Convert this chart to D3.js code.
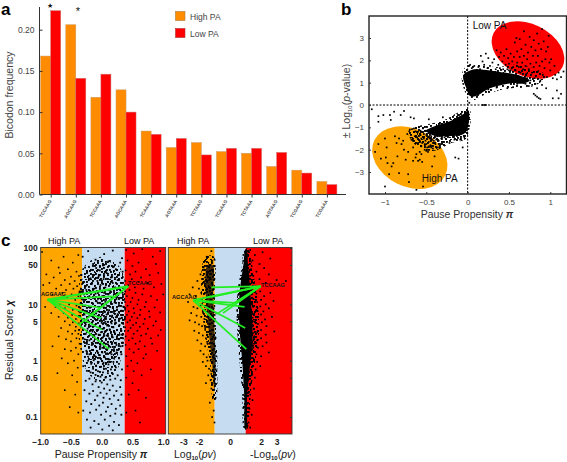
<!DOCTYPE html>
<html><head><meta charset="utf-8">
<script src="https://cdnjs.cloudflare.com/ajax/libs/d3/7.8.5/d3.min.js"></script>
<style>
html,body{margin:0;padding:0;background:#fff}
svg{display:block}
text{font-family:"Liberation Sans",Arial,sans-serif;fill:#222}
.axis path,.axis line{stroke:#333}
</style></head><body>
<svg id="c" width="567" height="462"><defs></defs></svg>
<script>
// ---------- panel a ----------
const bicodons=["TCCAAG","AGCAAG","TCCAAA","AGCAAA","TCAAAA","AGTAAA","TCTAAG","TCAAAG","TCTAAA","AGTAAG","TCGAAG","TCGAAA"];
const highPA=[.168,.206,.118,.127,.077,.057,.063,.052,.050,.034,.0295,.0158];
const lowPA=[.223,.141,.146,.100,.073,.068,.048,.056,.056,.051,.026,.012];
const freqTicks=[0,.05,.10,.15,.20];
// ---------- panel b ----------
const bandPos=[[-.05,1.35],[.03,1.55],[.1,1.6],[.27,1.55],[.45,1.45],[.6,1.35],[.75,1.1],[.65,.95],[.55,.98],[.27,.75],[.1,.4],[.03,.4],[-.02,.8],[-.05,1.1]];
const hazePos=[[-.07,1.4],[.02,1.85],[.15,1.8],[.35,1.7],[.55,1.8],[.75,1.7],[.95,1.3],[.8,.85],[.45,.72],[.2,.45],[.06,.22],[-.02,.5]];
const bandNeg=[[.01,-.25],[-.05,-.4],[-.23,-.75],[-.4,-.95],[-.5,-1.15],[-.42,-1.35],[-.25,-1.4],[-.05,-1.3],[0,-1.04]];
const hazeNeg=[[.02,-.15],[-.1,-.3],[-.3,-.7],[-.6,-.95],[-.72,-1.2],[-.6,-1.9],[-.4,-2.05],[-.2,-1.7],[-.02,-1.5]];
const bNegPts=[[-1.16,-.19],[-1.08,-.5],[-1.02,-.45],[-.94,-.45],[-.89,-.3],[-.77,-.27],[-.69,-.55],[-.93,-.67],[-1.08,-.75],[-.81,-.45],[-.65,-.6],[-.47,-.64],[-.3,-.55],[-.12,-.45],[-.1,-.6],
[-1.12,-2.1],[-1.08,-1.75],[-1.05,-2.4],[-1,-1.5],[-.98,-1.9],[-.99,-2.35],[-.97,-2.6],[-.95,-3.1],[-1,-3.65],[-.92,-2.75],[-.9,-2.6],[-.88,-1.4],[-.86,-1.7],[-.85,-2.3],[-.83,-1.5],[-.83,-3.05],[-.8,-1.75],[-.78,-1.6],[-.77,-2],[-.75,-2.45],[-.73,-1.3],[-.72,-2.1],[-.72,-3.1],[-.71,-3.45],[-.7,-1.1],[-.68,-1.55],[-.66,-2.5],[-.66,-1.9],[-.64,-1.4],[-.63,-2.35],[-.62,-3.8],[-.6,-1.2],[-.6,-1.7],[-.6,-2.5],[-.58,-2.1],[-.57,-1.35],[-.56,-1.85],[-.55,-1.2],[-.54,-3.65],[-.53,-1.5],[-.52,-2],[-.5,-1.35],[-.5,-1.75],[-.48,-2.1],[-.46,-1.5],[-.44,-1.9],[-.43,-2.75],[-.42,-1.7],[-.41,-1.25],[-.4,-2.3],[-.38,-1.55],[-.36,-1.9],[-.34,-1.3],[-.33,-1.75],[-.3,-1.65],[-.28,-1.45],[-.22,-1.7],[-.16,-1.55],[-.15,-2.35],[-.11,-2.4],[-.06,-1.9],[-.09,-1.55],[-.04,-1.45],
[-.65,-1.05],[-.63,-1.18],[-.61,-1.45],[-.59,-1],[-.58,-1.6],[-.57,-1.15],[-.56,-1.5],[-.55,-1.7],[-.54,-1.05],[-.53,-1.3],[-.52,-1.75],[-.51,-1.6],[-.5,-1.15],[-.49,-1.9],[-.48,-1.45],[-.47,-1.65],[-.46,-1.2],[-.45,-1.8],[-.44,-1.4],[-.43,-1.55],[-.42,-1.95],[-.41,-1.6],[-.4,-1.45],[-.39,-1.75],[-.37,-1.4],[-.35,-1.6],[-.32,-1.5],[-.56,-2.2],[-.58,-2.45],[-.55,-2.55],[-.62,-2.2],[-.47,-1.85],[-.5,-2.05]];
const bPosPts=[[.03,1.8],[.05,1.65],[.08,1.75],[.1,1.55],[.13,1.7],[.15,1.6],[.16,2.2],[.18,1.95],[.2,1.8],[.22,2.3],[.24,1.65],[.25,2.1],[.27,1.75],[.28,1.55],[.3,1.9],[.32,2.05],[.34,1.6],[.35,2.45],[.37,1.8],[.38,2.15],[.39,1.65],[.4,2.35],[.42,1.95],[.43,1.6],[.44,2.2],[.46,1.8],[.47,2.5],[.48,1.6],[.49,2.1],[.5,1.85],[.52,1.55],[.52,2.3],[.54,1.95],[.55,1.7],[.56,2.15],[.57,2.8],[.58,1.55],[.59,3],[.6,1.9],[.6,2.4],[.62,1.7],[.63,2.15],[.63,2.95],[.64,1.45],[.65,2.5],[.66,1.9],[.67,1.6],[.68,2.2],[.68,3.3],[.7,1.75],[.7,2.7],[.71,1.4],[.72,2.05],[.73,2.35],[.74,1.6],[.75,3.05],[.76,1.85],[.77,2.6],[.78,1.45],[.79,2.2],[.8,1.7],[.8,2.9],[.81,1.2],[.82,2.45],[.83,1.9],[.84,3.2],[.85,1.5],[.85,2.2],[.86,2.75],[.87,1.75],[.88,1.1],[.89,2.5],[.9,3.4],[.9,1.95],[.91,1.35],[.92,2.85],[.93,1.65],[.94,2.05],[.95,2.4],[.96,1.25],[.97,2.6],[.98,3.1],[.99,1.9],[1,1.55],[1.01,2.05],[1.03,1.2],[1.05,1.75],[1.06,1.35],[1.08,1.15],[1.1,1.45],[1.13,1.25],[1.16,1.5],
[.6,1.3],[.65,1.05],[.7,.95],[.72,1.2],[.74,.85],[.76,1.1],[.78,.9],[.82,.95],[.84,.75],[.8,.5],[.82,.43],[.84,.37],[.86,.31],[.88,.27],[.9,.9],[.95,.75],[1.08,.65],[1.1,.3],[1.13,.5],[1.03,.3],[.6,.95],[.55,.8],[.48,.75],[.35,.78],[.5,1.55],[.25,.7],[.02,.1],[.18,0],[.2,0],[.22,0]];
const ellipseLow={cx:.73,cy:2.46};
const ellipseHigh={cx:-.70,cy:-2.36};
// ---------- panel c, left ----------
const scoreTicks=[100,50,10,5,1,.5,.1];
const piTicks=[-1,-.5,0,.5,1];
const pvTicks=[-3,-2,0,2,3];
const cLeftDense=[[-.3,30],[-.1,55],[.15,55],[.36,30],[.38,10],[.36,3],[.25,1.2],[0,.75],[-.22,1.1],[-.33,3],[-.36,10]];
const cLeftWide=[[-.3,45],[0,70],[.3,45],[.39,12],[.36,2],[.22,.6],[0,.42],[-.22,.6],[-.36,2],[-.38,12]];
const cLeftBlue=[[-.31,70],[-.22,88],[-.1,62],[.04,78],[.18,90],[.3,55],[-.27,45],[-.14,52],[-.03,40],[.11,58],[.23,42],[.33,66],[-.33,33],[-.24,36],[-.18,29],[-.09,44],[-.05,31],[.02,49],[.08,36],[.15,30],[.2,47],[.27,33],[.34,38],[-.3,25],[-.26,21],[-.21,27],[-.16,23],[-.12,19],[-.07,26],[-.02,22],[.03,28],[.06,20],[.1,25],[.14,18],[.18,24],[.22,20],[.26,27],[.3,18],[.35,24],
[-.33,17],[-.29,15],[-.25,18],[-.2,14],[-.17,16.5],[-.13,13],[-.1,15.5],[-.06,12.5],[-.03,17],[.01,14],[.04,16],[.07,12],[.11,15],[.13,17.5],[.16,13],[.2,16],[.24,12.5],[.27,15],[.31,13],[.34,16],[.36,12],
[-.34,10.5],[-.3,12],[-.27,9.5],[-.23,11],[-.19,8.7],[-.15,10.6],[-.11,9.2],[-.08,11.3],[-.04,8.4],[0,10],[.03,8.9],[.06,11],[.09,9.4],[.12,7.9],[.15,10.2],[.18,8.6],[.21,10.8],[.25,8.1],[.28,9.7],[.32,7.7],[.35,9.1],
[-.35,7.2],[-.31,8],[-.28,6.6],[-.24,7.6],[-.2,6.2],[-.16,7.1],[-.13,5.8],[-.09,6.9],[-.05,7.5],[-.02,6],[.02,7],[.05,5.7],[.08,6.6],[.11,7.3],[.14,5.5],[.17,6.3],[.2,7],[.23,5.9],[.26,6.7],[.3,5.6],[.33,6.4],[.36,5.3],
[-.33,5],[-.29,5.5],[-.26,4.4],[-.22,5.2],[-.18,4.1],[-.15,4.9],[-.11,4.3],[-.07,5.3],[-.04,3.9],[0,4.7],[.03,3.7],[.06,4.9],[.09,4.2],[.13,3.6],[.16,4.6],[.19,3.9],[.22,4.8],[.25,3.5],[.29,4.3],[.32,3.4],[.35,4.5],
[-.3,3.5],[-.26,3],[-.23,3.7],[-.19,2.9],[-.15,3.3],[-.12,2.7],[-.08,3.5],[-.05,2.9],[-.01,3.2],[.02,2.6],[.05,3.3],[.08,2.8],[.12,2.5],[.15,3.1],[.18,2.6],[.21,3.2],[.25,2.7],[.28,2.4],[.32,2.9],[.35,2.5],
[-.28,2.4],[-.24,2],[-.2,2.3],[-.16,1.9],[-.13,2.2],[-.09,1.75],[-.06,2.3],[-.02,1.9],[.01,1.7],[.04,2.1],[.07,1.6],[.1,1.95],[.14,1.75],[.17,2.1],[.2,1.6],[.24,1.9],[.27,1.55],[.31,1.8],[.34,2.1],
[-.25,1.5],[-.2,1.3],[-.16,1.55],[-.11,1.2],[-.07,1.45],[-.03,1.25],[.01,1.4],[.05,1.15],[.09,1.35],[.12,1.05],[.16,1.3],[.2,1.1],[.24,1.4],[.28,1.1],[.32,1.3],
[-.22,1],[-.17,.88],[-.13,1.02],[-.09,.82],[-.05,.95],[-.01,.78],[.03,.92],[.07,.72],[.11,.86],[.15,.7],[.19,.95],[.23,.76],[.28,.88],[.33,.7],
[-.3,.8],[-.24,.66],[-.18,.62],[-.14,.72],[-.1,.56],[-.06,.65],[-.02,.52],[.02,.62],[.06,.5],[.1,.6],[.14,.46],[.18,.58],[.22,.48],[.26,.55],[.31,.45],
[-.26,.44],[-.2,.48],[-.15,.38],[-.1,.43],[-.05,.34],[0,.41],[.04,.32],[.09,.38],[.13,.3],[.18,.36],[.24,.29],[.3,.34],
[-.28,.3],[-.2,.26],[-.14,.29],[-.07,.24],[-.02,.27],[.03,.22],[.08,.26],[.13,.21],[.2,.24],[.27,.2],[.32,.25],
[-.25,.19],[-.17,.17],[-.11,.2],[-.04,.16],[.02,.18],[.1,.15],[.16,.17],[.23,.14],[.3,.16],
[-.3,.13],[-.19,.12],[-.09,.135],[-.01,.11],[.07,.125],[.14,.105],[.22,.115],[.32,.11],
[-.24,.09],[-.12,.085],[-.05,.075],[.05,.09],[.12,.07],[.2,.082],[.28,.072],[-.18,.065],[.01,.06],[.18,.058]];
const cLeftOrange=[[-.97,85],[-.82,60],[-.7,45],[-.62,70],[-.55,42],[-.47,55],[-.41,38],[-.38,75],[-.9,34],[-.78,30],[-.68,36],[-.6,27],[-.5,31],[-.44,26],[-.37,32],[-.95,22],[-.85,24],[-.74,19],[-.66,22],[-.58,18],[-.52,23],[-.46,19],[-.4,21],[-.36,17],[-.8,15],[-.72,13],[-.64,16],[-.56,13],[-.49,15],[-.43,12],[-.38,14],[-.92,9],[-.75,9],[-.68,10],[-.6,8.5],[-.53,10],[-.47,8],[-.41,9.5],[-.37,7.5],[-.82,7],[-.7,6],[-.62,7],[-.55,5.8],[-.48,6.5],[-.42,5.5],[-.37,6],[-.6,5],[-.52,4.3],[-.47,4.8],[-.42,4],[-.37,4.6],[-.66,3.8],[-.55,3.3],[-.48,3],[-.43,3.4],[-.38,3],[-.7,2.7],[-.58,2.4],[-.5,2.2],[-.41,2.5],[-.36,2],[-.8,1.8],[-.6,1.6],[-.5,1.5],[-.42,1.7],[-.38,1.3],[-.65,1.1],[-.55,.9],[-.45,1],[-.39,.75],[-.72,.6],[-.48,.55],[-.4,.42],[-.6,.3],[-.43,.25],[-.52,.15],[-.38,.12]];
const cLeftRed=[[.4,92],[.52,80],[.66,95],[.83,70],[.95,88],[.42,60],[.5,48],[.6,55],[.72,42],[.88,52],[.39,40],[.46,34],[.55,38],[.64,30],[.78,33],[.92,36],[.38,26],[.43,22],[.49,28],[.54,20],[.6,25],[.68,19],[.75,24],[.85,20],[.97,23],[.38,17],[.41,14],[.45,18],[.5,13],[.55,16],[.6,12],[.66,15],[.72,11],[.8,14],[.9,12],[1,15],[.38,11],[.42,9.5],[.47,11],[.52,8.5],[.58,10],[.63,8],[.7,9],[.77,7.5],[.86,8.8],[.95,7.2],[.38,8],[.41,6.5],[.44,7.5],[.49,6],[.53,7],[.58,5.7],[.62,6.5],[.7,5.5],[.78,6],[.88,5],[.38,5.5],[.42,4.8],[.46,5.2],[.51,4.3],[.56,4.7],[.62,4],[.68,4.5],[.75,3.7],[.84,4.2],[.96,3.5],[.38,3.9],[.43,3.4],[.47,3.8],[.52,3],[.58,3.4],[.64,2.8],[.72,3],[.8,2.5],[.92,2.8],[.39,2.7],[.44,2.3],[.5,2.5],[.55,2],[.62,2.2],[.7,1.8],[.82,2],[.39,1.9],[.45,1.6],[.52,1.4],[.6,1.6],[.72,1.3],[.9,1.5],[.4,1.2],[.48,1],[.58,.9],[.68,1.1],[.42,.8],[.52,.65],[.65,.55],[.8,.7],[.4,.5],[.5,.4],[.6,.3],[.44,.25],[.72,.22],[.55,.13],[.4,.12],[.62,.08]];
// ---------- panel c, right ----------
const cRightDark=[[.98,94],[.88,54],[.72,27.5],[.6,14],[.58,7],[.62,3.6],[.7,1.8],[.8,.91],[.86,.46],[.92,.23],[.98,.06],[1.05,.06],[1.1,.23],[1.2,.46],[1.3,.91],[1.42,1.8],[1.45,3.6],[1.4,7],[1.32,14],[1.25,27.5],[1.15,54],[1.08,94]];
const cRightFuzz=[[.9,95],[.78,50],[.52,20],[.42,7],[.5,2.5],[.62,.9],[.78,.3],[.92,.06],[1.1,.06],[1.35,.3],[1.6,.9],[1.85,2.5],[1.85,7],[1.65,20],[1.42,50],[1.2,95]];
const cRightHaze=[[-1.6,70],[-1.85,14],[-1.65,3.6],[-1.3,.91],[-1.08,.2],[-.92,.2],[-.82,.91],[-.9,3.6],[-.98,14],[-1.05,70]];
const cRightHazeCore=[[-1.45,50],[-1.55,14],[-1.38,3.6],[-1.15,.91],[-1.0,.3],[-.92,.91],[-1.0,3.6],[-1.08,14],[-1.12,50]];
const cRightHigh=[[-1.2,88],[-1.5,70],[-1,62],[-1.7,45],[-1.3,50],[-1.9,34],[-1.6,30],[-1.1,38],[-1.45,36],[-2.1,26],[-1.75,24],[-1.35,27],[-2.4,20],[-2,19],[-1.85,16],[-1.55,20],[-2.6,15],[-2.2,14],[-1.95,12.5],[-1.7,13],[-1.6,11],[-2.7,11],[-2.35,9],[-2.1,8.5],[-1.9,9.5],[-1.75,7.5],[-1.6,8],[-2.5,7],[-2.15,6.3],[-1.85,6],[-1.65,5.5],[-2.6,5.2],[-2.25,4.8],[-2,4.4],[-1.8,4.1],[-1.6,3.8],[-2.3,3.4],[-2,3.1],[-1.75,2.8],[-1.55,2.5],[-2.1,2.3],[-1.85,2],[-1.6,1.8],[-1.9,1.5],[-1.7,1.3],[-1.5,1.15],[-1.45,1],[-1.75,.95],[-1.55,.8],[-1.35,.72],[-1.4,.55],[-1.25,.45],[-1.55,.4],[-1.2,.32],[-1.1,.22],[-1.3,.18],[-1.05,.13],[-1.15,.1],[-1,.08],[-1.55,18],[-1.5,9.5],[-1.5,6],[-1.42,4.5],[-1.45,2.9],[-1.35,2],[-1.28,1.5],[-1.25,1],[-1.15,.65],[-1,.4],[-1.6,26],[-1.12,22],[-1.2,14],[-1.05,8.5],[-1,5],[-.95,2.6],[-.88,1.2],[-.92,.7]];
const cRightLow=[[1.3,92],[1.6,75],[2.1,84],[1.45,60],[1.9,52],[2.6,65],[1.35,42],[1.7,38],[2.2,44],[1.5,32],[1.9,28],[2.5,34],[1.4,24],[1.65,21],[2.3,24],[3,27],[1.45,17],[1.7,15.5],[1.95,17],[2.2,14],[2.6,16],[1.5,12.5],[1.75,11],[2,12],[2.3,10],[2.8,11.5],[1.5,9],[1.7,8],[1.95,9.2],[2.15,7.5],[2.5,8.5],[1.55,6.8],[1.75,6],[2,6.6],[2.25,5.4],[2.7,6],[1.55,5],[1.8,4.5],[2.05,4.8],[2.35,4.1],[1.55,3.6],[1.75,3.2],[2,3.5],[2.3,2.9],[2.85,3.3],[1.55,2.7],[1.75,2.3],[2,2.5],[2.35,2.1],[1.55,2],[1.8,1.7],[2.1,1.8],[1.5,1.5],[1.7,1.3],[2,1.2],[2.5,1.4],[1.5,1.1],[1.75,.95],[1.45,.8],[1.65,.7],[1.95,.8],[1.4,.55],[1.6,.5],[1.35,.4],[1.55,.32],[1.3,.25],[1.45,.2],[1.25,.14],[1.4,.11],[1.2,.08],[1.3,.065],[1.5,1.7],[1.5,2.3],[1.48,3.1],[1.46,4.3],[1.45,5.8],[1.42,10],[1.38,15],[1.36,20],[1.3,32],[3.6,26]];
// ---------- green connections ----------
const leftHubs=[[-.88,12.1],[.43,20.9]];
const leftEnds=[[[.12,1.6],[.005,3.55],[-.01,5.7],[-.01,8.7],[.2,13.9]],[[-.36,4.4],[-.17,6.6],[.12,11.3]]];
const rightHubs=[[-2.37,11.8],[1.97,20.9]];
const rightEnds=[[[1.05,1.6],[.98,3.8],[.94,9],[.3,10.6]],[[-.88,6.7],[-.45,7],[.3,10.6],[-1.2,13.5],[-1.2,20]]];
// ---------- speckle tiles for the unresolvable dense parts of the clouds ----------
const speckleA=[[1,2],[5,0],[9,3],[14,1],[19,2],[22,5],[3,6],[7,7],[12,5],[16,6],[20,9],[0,10],[5,11],[10,9],[14,11],[18,13],[23,12],[2,14],[7,15],[11,13],[15,16],[20,16],[4,18],[9,18],[13,19],[18,19],[22,18],[6,3],[17,10],[11,1],[1,17],[8,11],[21,14]];
const speckleB=[[0,1],[4,3],[8,0],[12,2],[16,4],[2,7],[6,6],[10,8],[14,7],[18,9],[0,11],[4,12],[8,11],[12,13],[16,12],[2,16],[6,15],[10,17],[14,16],[18,18],[0,20],[4,21],[8,20],[12,22],[16,21]];

const svg=d3.select("#c");
const defs=svg.select("defs");
function tile(id,w,h,pts){
  const p=defs.append("pattern").attr("id",id).attr("patternUnits","userSpaceOnUse").attr("width",w).attr("height",h);
  p.selectAll("rect").data(pts).join("rect").attr("x",d=>d[0]).attr("y",d=>d[1]).attr("width",1.9).attr("height",1.9).attr("fill","#000");
}
tile("spA",24,20,speckleA);
tile("spB",19,23,speckleB);
const panelLetter=(t,x,y)=>svg.append("text").attr("x",x).attr("y",y).attr("font-size",17).attr("font-weight","bold").style("fill","#000").text(t);
function label(t,x,y,size,anchor="start",extra={}){
  const e=svg.append("text").attr("x",x).attr("y",y).attr("font-size",size).attr("text-anchor",anchor).text(t);
  Object.entries(extra).forEach(([k,v])=>e.attr(k,v));return e;
}
function squares(g,data,x,y,s,fill="#000"){
  g.append("g").selectAll("rect").data(data).join("rect")
   .attr("x",d=>x(d[0])-s/2).attr("y",d=>y(d[1])-s/2).attr("width",s).attr("height",s).attr("fill",fill);
}
function blob(g,data,x,y,fill,op=1){
  g.append("path").attr("d",d3.line().x(d=>x(d[0])).y(d=>y(d[1])).curve(d3.curveCatmullRomClosed.alpha(.5))(data)).attr("fill",fill).attr("fill-opacity",op);
}

// ---- a ----
panelLetter("a",1,15);
const xa=d3.scaleLinear().domain([0,12]).range([40.7,342]);
const ya=d3.scaleLinear().domain([0,.2]).range([194.5,29.7]);
const gA=svg.append("g");
bicodons.forEach((c,i)=>{
  const x0=xa(i),w=10;
  gA.append("rect").attr("x",x0).attr("y",ya(highPA[i])).attr("width",w).attr("height",ya(0)-ya(highPA[i])).attr("fill","#FF8C00").attr("stroke","#c9975f").attr("stroke-width",.5);
  gA.append("rect").attr("x",x0+w).attr("y",ya(lowPA[i])).attr("width",w).attr("height",ya(0)-ya(lowPA[i])).attr("fill","#FF0000").attr("stroke","#d06a6a").attr("stroke-width",.5);
});
const axA=svg.append("g").attr("class","axis").attr("transform","translate(39.5,0)").call(d3.axisLeft(ya).tickValues(freqTicks).tickFormat(d3.format(".2f")).tickSize(-3).tickPadding(5));
axA.select("path").attr("d",`M0,7V${ya(0)}`);
axA.selectAll("text").attr("font-size",8.5).style("fill","#444");
const xaBand=d3.scalePoint().domain(bicodons).range([xa(0),xa(11)]);
const axB=svg.append("g").attr("class","axis").attr("transform",`translate(10,${ya(0)})`).call(d3.axisBottom(xaBand).tickSize(3).tickFormat(""));
axB.select("path").attr("d",`M29.5,0H${xa(12)-6}`);
bicodons.forEach((c,i)=>{
  const x=xa(i)+11;
  label(c,x,201,4.6,"end",{transform:`rotate(-60 ${x} 201)`,"font-weight":"bold"}).style("fill","#444");
});
label("★",50,8,7,"middle").style("fill","#111");
label("*",78,15,11,"middle").style("fill","#111");
label("Bicodon frequency",13,95,10.5,"middle",{transform:"rotate(-90 13 95)"}).style("fill","#444");
[["High PA","#FF8C00","#b07a3a",11.5],["Low PA","#FF0000","#a33",28.5]].forEach(([t,f,s,y])=>{
  svg.append("rect").attr("x",175.5).attr("y",y).attr("width",9.5).attr("height",9).attr("fill",f).attr("stroke",s).attr("stroke-width",.6);
  label(t,190,y+8,8.5,"start").style("fill","#444");
});

// ---- b ----
panelLetter("b",341,15);
const xb=d3.scaleLinear().domain([-1,1]).range([385,550.3]);
const yb=d3.scaleLinear().domain([-3,3]).range([172,38]);
const B={l:369,r:566.5,t:16,b:194};
const gb=svg.append("g");
function ell(e,a,b,rot,fill){
  const cx=xb(e.cx),cy=yb(e.cy);
  gb.append("ellipse").attr("cx",cx).attr("cy",cy).attr("rx",a).attr("ry",b).attr("transform",`rotate(${rot} ${cx} ${cy})`).attr("fill",fill);
}
ell(ellipseLow,38.4,26,26,"#FF0000");
ell(ellipseHigh,39.6,28.9,26.6,"#FFA500");
blob(gb,bandPos,xb,yb,"#000");
blob(gb,bandNeg,xb,yb,"#000");
blob(gb,hazePos,xb,yb,"url(#spA)");
blob(gb,hazeNeg,xb,yb,"url(#spA)");
blob(gb,hazeNeg,xb,yb,"url(#spB)");
squares(gb,bNegPts,xb,yb,1.7);
squares(gb,bPosPts,xb,yb,1.7);
gb.append("line").attr("x1",xb(0)).attr("x2",xb(0)).attr("y1",B.t).attr("y2",B.b).attr("stroke","#000").attr("stroke-width",1).attr("stroke-dasharray","2,1.5");
gb.append("line").attr("x1",B.l).attr("x2",B.r).attr("y1",yb(0)).attr("y2",yb(0)).attr("stroke","#000").attr("stroke-width",1).attr("stroke-dasharray","2,1.5");
svg.append("rect").attr("x",B.l).attr("y",B.t).attr("width",B.r-B.l).attr("height",B.b-B.t).attr("fill","none").attr("stroke","#222").attr("stroke-width",1.4);
const axbx=svg.append("g").attr("class","axis").attr("transform",`translate(0,${B.b})`).call(d3.axisBottom(xb).tickValues([-1,-.5,0,.5,1]).tickFormat(d3.format("")).tickSize(-2).tickPadding(5));
axbx.select("path").remove();axbx.selectAll("text").attr("font-size",8).style("fill","#444");
const axby=svg.append("g").attr("class","axis").attr("transform",`translate(${B.l},0)`).call(d3.axisLeft(yb).tickValues([-3,-2,-1,0,1,2,3]).tickFormat(d3.format("")).tickSize(-2).tickPadding(5));
axby.select("path").remove();axby.selectAll("text").attr("font-size",8).style("fill","#444");
label("Low PA",472.7,29,10).style("fill","#111");
label("High PA",421.7,182,10).style("fill","#111");
const xl=label("Pause Propensity ",467,218,10.5,"middle",{"font-weight":"500"}).style("fill","#333");
xl.append("tspan").attr("font-weight","bold").attr("font-style","italic").text("π");
const yl=svg.append("text").attr("transform","translate(350,101) rotate(-90)").attr("text-anchor","middle").attr("font-size",10.5).style("fill","#444");
yl.append("tspan").text("± Log");
yl.append("tspan").attr("font-size",6).attr("dy",2).text("10");
yl.append("tspan").attr("dy",-2).text("(");
yl.append("tspan").attr("font-style","italic").text("p");
yl.append("tspan").text("-value)");

// ---- c ----
panelLetter("c",1,246);
const yc=d3.scaleLog().domain([.05,100]).range([434,248]);
const C1={l:40.7,r:165.7,t:247.5,b:434,o:82,bl:124.7};
const C2={l:168.3,r:292,t:247.5,b:434,o:214.7,bl:245.7};
const xc1=d3.scaleLinear().domain([-1,1]).range([40.2,163.2]);
const xc2=d3.scaleLinear().domain([-3,3]).range([183.4,276.6]);
function background(C){
  svg.append("rect").attr("x",C.l).attr("y",C.t).attr("width",C.o-C.l).attr("height",C.b-C.t).attr("fill","#FFA500");
  svg.append("rect").attr("x",C.o).attr("y",C.t).attr("width",C.bl-C.o).attr("height",C.b-C.t).attr("fill","#C6DCF0");
  svg.append("rect").attr("x",C.bl).attr("y",C.t).attr("width",C.r-C.bl).attr("height",C.b-C.t).attr("fill","#FF0000");
}
background(C1);background(C2);
const g1=svg.append("g"),g2=svg.append("g");
blob(g1,cLeftWide,xc1,yc,"url(#spB)");
blob(g1,cLeftDense,xc1,yc,"url(#spA)");
squares(g1,cLeftBlue,xc1,yc,1.8);
squares(g1,cLeftOrange,xc1,yc,1.6);
squares(g1,cLeftRed,xc1,yc,1.6);
blob(g2,cRightHaze,xc2,yc,"url(#spA)");
blob(g2,cRightHaze,xc2,yc,"url(#spB)");
blob(g2,cRightHazeCore,xc2,yc,"#000",.75);
blob(g2,cRightFuzz,xc2,yc,"url(#spA)");
blob(g2,cRightFuzz,xc2,yc,"url(#spB)");
blob(g2,cRightDark,xc2,yc,"#000");
squares(g2,cRightHigh,xc2,yc,1.7);
squares(g2,cRightLow,xc2,yc,1.7);
function spokes(g,hubs,ends,x){
  const line=d3.line().x(d=>x(d[0])).y(d=>yc(d[1]));
  hubs.forEach((h,i)=>{
    ends[i].forEach(e=>g.append("path").attr("d",line([h,e])).attr("stroke","#22EE22").attr("stroke-width",1.7).attr("fill","none"));
  });
  g.append("path").attr("d",line(hubs)).attr("stroke","#22EE22").attr("stroke-width",2.2).attr("fill","none");
}
spokes(g1,leftHubs,leftEnds,xc1);
spokes(g2,rightHubs,rightEnds,xc2);
[C1,C2].forEach(C=>svg.append("rect").attr("x",C.l).attr("y",C.t).attr("width",C.r-C.l).attr("height",C.b-C.t).attr("fill","none").attr("stroke","#333").attr("stroke-width",.9));
const axc=svg.append("g").attr("class","axis").attr("transform",`translate(${C1.l},0)`).call(d3.axisLeft(yc).tickValues(scoreTicks).tickFormat(d=>d).tickSize(0).tickPadding(3));
axc.select("path").remove();axc.selectAll("text").attr("font-size",8.5).attr("font-weight","bold").style("fill","#222");
const axc2r=svg.append("g").attr("class","axis").attr("transform",`translate(${C2.r},0)`).call(d3.axisRight(yc).tickValues(scoreTicks).tickFormat("").tickSize(-2));
axc2r.select("path").remove();
const ax1=svg.append("g").attr("class","axis").attr("transform",`translate(0,${C1.b})`).call(d3.axisBottom(xc1).tickValues(piTicks).tickFormat(d3.format(".1f")).tickSize(0).tickPadding(5));
ax1.select("path").remove();ax1.selectAll("text").attr("font-size",8.5).attr("font-weight","bold").style("fill","#222");
const ax2=svg.append("g").attr("class","axis").attr("transform",`translate(0,${C2.b})`).call(d3.axisBottom(xc2).tickValues(pvTicks).tickFormat(d=>d).tickSize(0).tickPadding(5));
ax2.select("path").remove();ax2.selectAll("text").attr("font-size",8.5).attr("font-weight","bold").style("fill","#222");
label("High PA",48,244,9).style("fill","#111");
label("Low PA",124,244,9).style("fill","#111");
label("High PA",177,244,9).style("fill","#111");
label("Low PA",253,244,9).style("fill","#111");
label("TCCAAG",128,285,5.6,"start",{"font-weight":"bold"}).style("fill","#111");
label("AGCAAG",41,296,5.6,"start",{"font-weight":"bold"}).style("fill","#111");
label("TCCAAG",261,287,5.6,"start",{"font-weight":"bold"}).style("fill","#111");
label("AGCAAG",172,299,5.6,"start",{"font-weight":"bold"}).style("fill","#111");
const yl2=label("Residual Score  ",13,340,10.5,"middle",{transform:"rotate(-90 13 340)"}).style("fill","#222");
yl2.append("tspan").attr("font-weight","bold").attr("font-style","italic").text("χ");
const xl2=label("Pause Propensity ",101,458,10.5,"middle").style("fill","#222");
xl2.append("tspan").attr("font-weight","bold").attr("font-style","italic").text("π");
function logLabel(pre,x){
  const t=label(pre+"Log",x,458,10.5).style("fill","#222");
  t.append("tspan").attr("font-size",6).attr("font-weight","bold").attr("dy",2).text("10");
  t.append("tspan").attr("dy",-2).text("(");
  t.append("tspan").attr("font-style","italic").text("pv");
  t.append("tspan").text(")");
}
logLabel("",174);
logLabel("-",250);
</script></body></html>
